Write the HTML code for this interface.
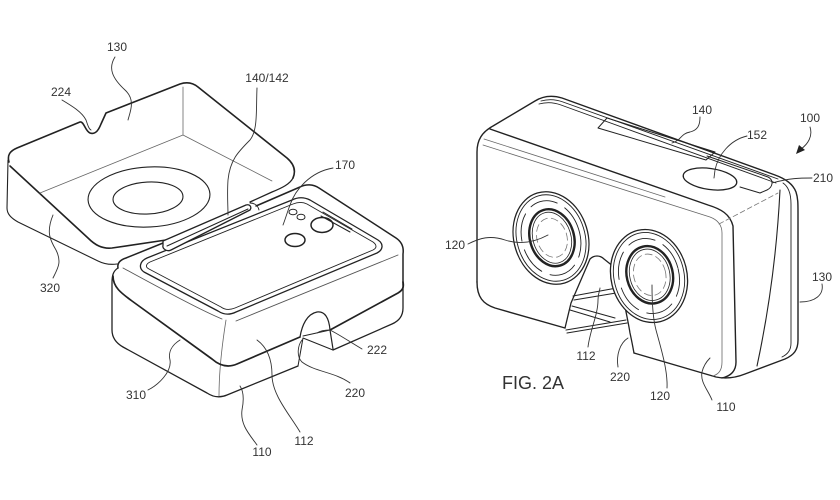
<!DOCTYPE html>
<html><head><meta charset="utf-8"><style>
html,body{margin:0;padding:0;background:#fff;}
svg{display:block;}
text{font-family:"Liberation Sans",Arial,sans-serif;font-size:12px;fill:#333;}
</style></head><body>
<svg width="840" height="500" viewBox="0 0 840 500" xmlns="http://www.w3.org/2000/svg">
<rect width="840" height="500" fill="#fff"/>
<g fill="none" stroke="#222" stroke-linecap="round" stroke-linejoin="round">

<!-- ===== LEFT FIGURE: LID ===== -->
<path stroke-width="1.6" d="M9,162 C7,155 10,151 17,148 L80,122 C84,121 85,131 90,133 C96,135 99,129 101,124 L106,113 L180,84 C186,82 192,82 198,87 L287,158 C294,164 296,171 293,178"/>
<path stroke-width="1.1" d="M8,160 L7,208 C7,214 11,218 18,222 L98,261 C104,264 110,265 117,264"/>
<path stroke-width="1.6" d="M10,166 L88,238 C95,245 102,249 112,248 L166,240"/>
<path stroke-width="1.3" d="M293,178 C290,184 282,188 272,192 L250,202"/>
<path stroke-width="0.8" stroke="#666" d="M183,87 L183,135 M183,135 L40,193 M183,135 L272,181"/>
<ellipse cx="149" cy="197" rx="61" ry="30" stroke-width="1.1" transform="rotate(-3 149 197)"/>
<ellipse cx="148" cy="198" rx="35" ry="16" stroke-width="1.1" transform="rotate(-3 148 198)"/>

<!-- ===== LEFT FIGURE: BASE ===== -->
<path stroke-width="1.3" d="M147,258 L292,200 C298,197 304,197 310,200 L378,240 C384,244 383,250 377,253 L236,312 C230,315 224,315 218,311 L144,272 C138,268 140,261 147,258 Z"/>
<path stroke-width="0.9" d="M150,262 L293,204 C298,202 303,202 307,204 L373,242 C377,245 377,248 373,250 L235,308 C230,310 225,310 221,307 L149,269 C145,267 146,264 150,262 Z"/>
<path stroke-width="1.5" d="M118,268 C117,263 120,260 126,258 L168,241"/>
<path stroke-width="1.5" d="M256,206 L300,187 C306,184 313,184 319,188 L396,238 C402,242 404,247 403,254 L403,285"/>
<path stroke-width="1.3" d="M118,268 C113,271 112,276 112,283 L112,330 C112,338 116,343 123,347 L207,393 C213,397 220,398 227,395 L298,366"/>
<path stroke-width="1.3" d="M333,350 L392,324 C399,321 403,316 403,308 L403,285"/>
<path stroke-width="0.9" stroke="#555" d="M123,268 C160,288 200,310 222,319 M236,321 L398,255"/>
<path stroke-width="0.8" stroke="#666" d="M226,320 C222,345 219,370 219,396"/>
<path stroke-width="1.7" d="M113,276 C113,287 121,293 132,301 L212,359 C220,366 228,368 237,364 L300,337"/>
<path stroke-width="1.7" d="M330,330 L398,293 C403,290 404,287 403,282"/>
<path stroke-width="1.2" d="M300,337 C302,325 307,314 317,312 C325,311 329,318 330,330 L333,349"/>
<path stroke-width="1" d="M303,336 L330,330 M303,338 L333,350 M298,366 L303,338"/>

<!-- camera / sensors -->
<ellipse cx="293" cy="212" rx="4" ry="2.8" stroke-width="1"/>
<ellipse cx="301" cy="217" rx="4" ry="2.8" stroke-width="1"/>
<ellipse cx="322" cy="225" rx="11" ry="7.5" stroke-width="1.5"/>
<ellipse cx="295" cy="240" rx="10" ry="6.5" stroke-width="1.5"/>
<path stroke-width="1" d="M323,212 L352,229 M321,216 L350,232"/>

<!-- hinge 140/142 -->
<path fill="#fff" stroke-width="1.3" d="M163,241 L246,205 C250,204 252,207 250,210 L171,250 C167,252 162,249 163,245 Z"/>
<path stroke-width="1" d="M167,246 L248,209"/>
<path stroke-width="0.9" d="M250,203 C255,203 258,206 259,210"/>

<!-- ===== RIGHT FIGURE ===== -->
<path stroke-width="1.4" d="M477,282 L477,152 C477,140 482,132 493,126 L535,101 C543,96 552,95 562,98 L775,175 C786,179 793,184 796,192 C798,198 798,204 798,212 L798,340 C798,350 794,355 785,359 L745,374 C735,378 726,379 716,377 L634,353"/>
<path stroke-width="1.4" d="M477,282 C477,297 483,304 495,308 L565,328"/>
<path stroke-width="1.4" d="M490,129 L708,205 C721,209 730,214 733,226 L736,362 C736,371 731,376 722,378"/>
<path stroke-width="0.9" d="M541,101 C548,99 555,99 563,102 L778,179"/>
<path stroke-width="0.9" d="M539,104 C546,102 553,102 561,105 L776,183"/>
<path stroke-width="0.8" stroke="#666" d="M484,139 L665,197"/>
<path stroke-width="0.8" stroke="#666" d="M483,145 L710,217 C718,220 722,225 722,233 L722,362 C722,370 719,374 713,376"/>
<path stroke-width="1" d="M607,118 L715,152 L706,160 L598,128 Z"/>
<path stroke-width="1" d="M707,156 L768,177 C774,180 773,187 767,190 L760,193 L740,187"/>
<ellipse cx="710" cy="179" rx="27" ry="10.5" transform="rotate(8 710 179)" stroke-width="1.3" fill="#fff"/>
<path stroke-width="0.8" stroke="#777" stroke-dasharray="5 3" d="M719,224 L778,193"/>
<path stroke-width="1.1" d="M780,190 C777,250 769,310 757,366"/>
<path stroke-width="0.9" d="M783,183 C789,187 791,194 791,204 L791,343 C791,350 788,354 782,357"/>

<!-- nose -->
<path stroke-width="1.3" d="M565,328 L571,303 L590,259 C594,255 600,255 604,259 L614,267"/>
<path stroke-width="1.1" d="M573,296 L622,287 M574,300 L622,292 M570,310 L610,322 M572,306 L615,318 M566,330 L626,320 M567,333 L627,323"/>
<path stroke-width="1.3" d="M621,280 C623,300 628,320 630,333 C632,342 633,348 634,353"/>

<!-- left lens -->
<g transform="rotate(-17 551 238)">
<ellipse cx="551" cy="238" rx="37" ry="47" stroke-width="1.3" fill="#fff"/>
<ellipse cx="551" cy="238" rx="34" ry="44" stroke-width="0.9"/>
<ellipse cx="551" cy="238" rx="29" ry="38" stroke-width="0.9" stroke-dasharray="28 9"/>
<ellipse cx="552" cy="238" rx="22" ry="29" stroke-width="2.4"/>
<ellipse cx="552" cy="238" rx="19" ry="26" stroke-width="0.8"/>
<ellipse cx="552" cy="238" rx="15" ry="20" stroke-width="0.8" stroke="#777" stroke-dasharray="7 4"/>
</g>
<!-- right lens -->
<g transform="rotate(-14 649 276)">
<ellipse cx="649" cy="276" rx="38" ry="47" stroke-width="1.3" fill="#fff"/>
<ellipse cx="649" cy="276" rx="35" ry="44" stroke-width="0.9"/>
<ellipse cx="649" cy="276" rx="30" ry="38" stroke-width="0.9" stroke-dasharray="28 9"/>
<ellipse cx="650" cy="275" rx="23" ry="29" stroke-width="2.4"/>
<ellipse cx="650" cy="275" rx="20" ry="26" stroke-width="0.8"/>
<ellipse cx="650" cy="275" rx="16" ry="21" stroke-width="0.8" stroke="#777" stroke-dasharray="7 4"/>
</g>

<!-- ===== LEADER LINES ===== -->
<g stroke="#333" stroke-width="0.9">
<path d="M115,57 C108,68 112,78 125,90 C136,100 130,112 128,120"/>
<path d="M62,100 C72,106 82,112 86,120 C88,126 89,129 91,130"/>
<path d="M257,88 C256,110 258,130 250,140 C238,152 230,160 228,180 C227,195 228,205 228,215"/>
<path d="M333,168 C310,172 295,190 290,205 C287,213 285,220 283,225"/>
<path d="M53,278 C58,268 62,262 56,250 C50,240 46,232 53,215"/>
<path d="M148,390 C158,385 172,372 170,360 C168,352 172,345 180,340"/>
<path d="M257,445 C250,435 240,425 242,410 C244,400 244,392 240,386"/>
<path d="M300,432 C290,415 272,395 272,375 C272,360 268,348 257,340"/>
<path d="M350,383 C335,372 315,372 302,362 C296,356 298,345 302,340"/>
<path d="M362,349 C350,342 340,335 330,330 C325,330 320,331 317,333"/>

<path d="M700,117 C700,125 698,130 690,132 C680,134 682,140 672,143"/>
<path d="M747,136 C730,140 718,155 715,170 L714,178"/>
<path d="M810,127 C813,136 808,144 801,149"/>
<path d="M812,178 C800,178 790,178 772,183"/>
<path d="M822,284 C824,295 815,302 800,302"/>
<path d="M468,244 C480,238 490,235 505,240 C520,245 535,242 548,235"/>
<path d="M588,347 C590,330 598,315 598,300 C598,293 600,290 600,288"/>
<path d="M618,367 C616,355 620,343 628,338"/>
<path d="M667,388 C668,370 660,345 656,330 C652,315 652,295 652,285"/>
<path d="M712,400 C708,390 700,382 702,372 C704,364 708,360 710,358"/>
</g>
<path d="M796,154 L799,145 L805,150 Z" fill="#222" stroke="none"/>
</g>

<!-- ===== LABELS ===== -->
<g text-anchor="middle">
<text x="117" y="51">130</text>
<text x="61" y="96">224</text>
<text x="267" y="82">140/142</text>
<text x="345" y="169">170</text>
<text x="50" y="292">320</text>
<text x="136" y="399">310</text>
<text x="262" y="456">110</text>
<text x="304" y="445">112</text>
<text x="355" y="397">220</text>
<text x="377" y="354">222</text>

<text x="702" y="114">140</text>
<text x="757" y="139">152</text>
<text x="810" y="122">100</text>
<text x="823" y="182">210</text>
<text x="822" y="281">130</text>
<text x="455" y="249">120</text>
<text x="586" y="360">112</text>
<text x="620" y="381">220</text>
<text x="660" y="400">120</text>
<text x="726" y="411">110</text>
<text x="533" y="389" style="font-size:18px">FIG. 2A</text>
</g>
</svg>
</body></html>
